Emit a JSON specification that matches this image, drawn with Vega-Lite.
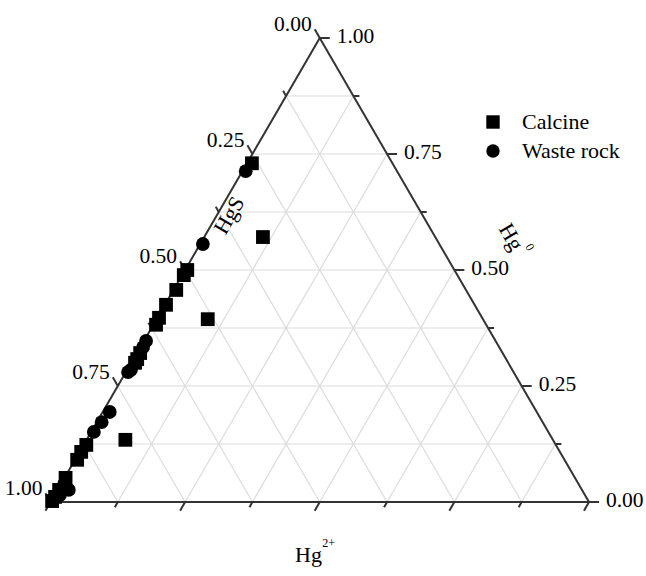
{
  "$schema": "https://vega.github.io/schema/vega-lite/v6.json",
  "width": 646,
  "height": 576,
  "autosize": "none",
  "padding": 0,
  "background": "white",
  "config": {"view": {"stroke": null}, "font": "Liberation Serif"},
  "datasets": {
    "grid": [
      {"x": 0.0625, "y": 0.125, "x2": 0.9375, "y2": 0.125},
      {"x": 0.125, "y": 0.25, "x2": 0.875, "y2": 0.25},
      {"x": 0.1875, "y": 0.375, "x2": 0.8125, "y2": 0.375},
      {"x": 0.25, "y": 0.5, "x2": 0.75, "y2": 0.5},
      {"x": 0.3125, "y": 0.625, "x2": 0.6875, "y2": 0.625},
      {"x": 0.375, "y": 0.75, "x2": 0.625, "y2": 0.75},
      {"x": 0.4375, "y": 0.875, "x2": 0.5625, "y2": 0.875},
      {"x": 0.125, "y": 0, "x2": 0.5625, "y2": 0.875},
      {"x": 0.25, "y": 0, "x2": 0.625, "y2": 0.75},
      {"x": 0.375, "y": 0, "x2": 0.6875, "y2": 0.625},
      {"x": 0.5, "y": 0, "x2": 0.75, "y2": 0.5},
      {"x": 0.625, "y": 0, "x2": 0.8125, "y2": 0.375},
      {"x": 0.75, "y": 0, "x2": 0.875, "y2": 0.25},
      {"x": 0.875, "y": 0, "x2": 0.9375, "y2": 0.125},
      {"x": 0.875, "y": 0, "x2": 0.4375, "y2": 0.875},
      {"x": 0.75, "y": 0, "x2": 0.375, "y2": 0.75},
      {"x": 0.625, "y": 0, "x2": 0.3125, "y2": 0.625},
      {"x": 0.5, "y": 0, "x2": 0.25, "y2": 0.5},
      {"x": 0.375, "y": 0, "x2": 0.1875, "y2": 0.375},
      {"x": 0.25, "y": 0, "x2": 0.125, "y2": 0.25},
      {"x": 0.125, "y": 0, "x2": 0.0625, "y2": 0.125}
    ],
    "edges": [
      {"x": 0, "y": 0, "x2": 1, "y2": 0},
      {"x": 1, "y": 0, "x2": 0.5, "y2": 1},
      {"x": 0.5, "y": 1, "x2": 0, "y2": 0}
    ],
    "ticks": [
      {"x": 0, "y": 0, "x2": -0.00929, "y2": -0.01866},
      {"x": 0.125, "y": 0, "x2": 0.11943, "y2": -0.0112},
      {"x": 0.25, "y": 0, "x2": 0.24071, "y2": -0.01866},
      {"x": 0.375, "y": 0, "x2": 0.36943, "y2": -0.0112},
      {"x": 0.5, "y": 0, "x2": 0.49071, "y2": -0.01866},
      {"x": 0.625, "y": 0, "x2": 0.61943, "y2": -0.0112},
      {"x": 0.75, "y": 0, "x2": 0.74071, "y2": -0.01866},
      {"x": 0.875, "y": 0, "x2": 0.86943, "y2": -0.0112},
      {"x": 1, "y": 0, "x2": 0.99071, "y2": -0.01866},
      {"x": 1, "y": 0, "x2": 1.01857, "y2": 0},
      {"x": 0.9375, "y": 0.125, "x2": 0.94864, "y2": 0.125},
      {"x": 0.875, "y": 0.25, "x2": 0.89357, "y2": 0.25},
      {"x": 0.8125, "y": 0.375, "x2": 0.82364, "y2": 0.375},
      {"x": 0.75, "y": 0.5, "x2": 0.76857, "y2": 0.5},
      {"x": 0.6875, "y": 0.625, "x2": 0.69864, "y2": 0.625},
      {"x": 0.625, "y": 0.75, "x2": 0.64357, "y2": 0.75},
      {"x": 0.5625, "y": 0.875, "x2": 0.57364, "y2": 0.875},
      {"x": 0.5, "y": 1, "x2": 0.51857, "y2": 1},
      {"x": 0, "y": 0, "x2": -0.00929, "y2": 0.01866},
      {"x": 0.0625, "y": 0.125, "x2": 0.05693, "y2": 0.1362},
      {"x": 0.125, "y": 0.25, "x2": 0.11571, "y2": 0.26866},
      {"x": 0.1875, "y": 0.375, "x2": 0.18193, "y2": 0.3862},
      {"x": 0.25, "y": 0.5, "x2": 0.24071, "y2": 0.51866},
      {"x": 0.3125, "y": 0.625, "x2": 0.30693, "y2": 0.6362},
      {"x": 0.375, "y": 0.75, "x2": 0.36571, "y2": 0.76866},
      {"x": 0.4375, "y": 0.875, "x2": 0.43193, "y2": 0.8862},
      {"x": 0.5, "y": 1, "x2": 0.49071, "y2": 1.01866}
    ],
    "leftLabels": [
      {"label": "0.00", "x": 0.49071, "y": 1.01866},
      {"label": "0.25", "x": 0.36571, "y": 0.76866},
      {"label": "0.50", "x": 0.24071, "y": 0.51866},
      {"label": "0.75", "x": 0.11571, "y": 0.26866},
      {"label": "1.00", "x": -0.00929, "y": 0.01866}
    ],
    "rightLabels": [
      {"label": "1.00", "x": 0.51857, "y": 1},
      {"label": "0.75", "x": 0.64357, "y": 0.75},
      {"label": "0.50", "x": 0.76857, "y": 0.5},
      {"label": "0.25", "x": 0.89357, "y": 0.25},
      {"label": "0.00", "x": 1.01857, "y": 0}
    ],
    "points": [
      {"type": "Calcine", "hg0": 0.730, "hg2": 0.009},
      {"type": "Calcine", "hg0": 0.571, "hg2": 0.109},
      {"type": "Calcine", "hg0": 0.500, "hg2": 0.004},
      {"type": "Calcine", "hg0": 0.489, "hg2": 0.003},
      {"type": "Calcine", "hg0": 0.457, "hg2": 0.005},
      {"type": "Calcine", "hg0": 0.425, "hg2": 0.002},
      {"type": "Calcine", "hg0": 0.397, "hg2": 0.003},
      {"type": "Calcine", "hg0": 0.382, "hg2": 0.005},
      {"type": "Calcine", "hg0": 0.321, "hg2": 0.006},
      {"type": "Calcine", "hg0": 0.308, "hg2": 0.007},
      {"type": "Calcine", "hg0": 0.300, "hg2": 0.007},
      {"type": "Calcine", "hg0": 0.394, "hg2": 0.095},
      {"type": "Calcine", "hg0": 0.123, "hg2": 0.005},
      {"type": "Calcine", "hg0": 0.108, "hg2": 0.003},
      {"type": "Calcine", "hg0": 0.091, "hg2": 0.004},
      {"type": "Calcine", "hg0": 0.134, "hg2": 0.072},
      {"type": "Calcine", "hg0": 0.052, "hg2": 0.002},
      {"type": "Calcine", "hg0": 0.026, "hg2": 0.003},
      {"type": "Calcine", "hg0": 0.011, "hg2": 0.003},
      {"type": "Calcine", "hg0": 0.002, "hg2": 0.002},
      {"type": "Waste rock", "hg0": 0.713, "hg2": 0.006},
      {"type": "Waste rock", "hg0": 0.556, "hg2": 0.005},
      {"type": "Waste rock", "hg0": 0.347, "hg2": 0.004},
      {"type": "Waste rock", "hg0": 0.334, "hg2": 0.005},
      {"type": "Waste rock", "hg0": 0.285, "hg2": 0.007},
      {"type": "Waste rock", "hg0": 0.280, "hg2": 0.004},
      {"type": "Waste rock", "hg0": 0.194, "hg2": 0.013},
      {"type": "Waste rock", "hg0": 0.172, "hg2": 0.009},
      {"type": "Waste rock", "hg0": 0.151, "hg2": 0.005},
      {"type": "Waste rock", "hg0": 0.039, "hg2": 0.006},
      {"type": "Waste rock", "hg0": 0.026, "hg2": 0.021},
      {"type": "Waste rock", "hg0": 0.015, "hg2": 0.010}
    ],
    "titles": [
      {"label": "HgS", "x": 0.3320, "y": 0.6180, "angle": -60, "size": 22},
      {"label": "Hg", "x": 0.8552, "y": 0.5711, "angle": 60, "size": 22},
      {"label": "0", "x": 0.8904, "y": 0.5496, "angle": 60, "size": 12},
      {"label": "Hg", "x": 0.4791, "y": -0.1150, "angle": 0, "size": 22},
      {"label": "2+", "x": 0.5165, "y": -0.0880, "angle": 0, "size": 12}
    ]
  },
  "layer": [
    {
      "data": {"name": "grid"},
      "mark": {"type": "rule", "color": "#dcdcdc", "strokeWidth": 1.2},
      "encoding": {
        "x": {"field": "x", "type": "quantitative", "scale": {"domain": [0, 1], "range": [50.5, 589], "nice": false, "zero": false}, "axis": null},
        "y": {"field": "y", "type": "quantitative", "scale": {"domain": [0, 1], "range": [502, 38], "nice": false, "zero": false}, "axis": null},
        "x2": {"field": "x2"},
        "y2": {"field": "y2"}
      }
    },
    {
      "data": {"name": "edges"},
      "mark": {"type": "rule", "color": "#333333", "strokeWidth": 2},
      "encoding": {
        "x": {"field": "x", "type": "quantitative"},
        "y": {"field": "y", "type": "quantitative"},
        "x2": {"field": "x2"},
        "y2": {"field": "y2"}
      }
    },
    {
      "data": {"name": "ticks"},
      "mark": {"type": "rule", "color": "#333333", "strokeWidth": 2},
      "encoding": {
        "x": {"field": "x", "type": "quantitative"},
        "y": {"field": "y", "type": "quantitative"},
        "x2": {"field": "x2"},
        "y2": {"field": "y2"}
      }
    },
    {
      "data": {"name": "leftLabels"},
      "mark": {"type": "text", "align": "right", "baseline": "alphabetic", "dx": -3, "dy": 2, "fontSize": 21.5, "font": "Liberation Serif", "color": "black"},
      "encoding": {
        "x": {"field": "x", "type": "quantitative"},
        "y": {"field": "y", "type": "quantitative"},
        "text": {"field": "label"}
      }
    },
    {
      "data": {"name": "rightLabels"},
      "mark": {"type": "text", "align": "left", "baseline": "middle", "dx": 7, "dy": -1, "fontSize": 21.5, "font": "Liberation Serif", "color": "black"},
      "encoding": {
        "x": {"field": "x", "type": "quantitative"},
        "y": {"field": "y", "type": "quantitative"},
        "text": {"field": "label"}
      }
    },
    {
      "data": {"name": "titles"},
      "mark": {"type": "text", "align": "center", "baseline": "middle", "font": "Liberation Serif", "color": "black"},
      "encoding": {
        "x": {"field": "x", "type": "quantitative"},
        "y": {"field": "y", "type": "quantitative"},
        "text": {"field": "label"},
        "angle": {"field": "angle", "type": "quantitative", "scale": null},
        "size": {"field": "size", "type": "quantitative", "scale": null, "legend": null}
      }
    },
    {
      "data": {"name": "points"},
      "transform": [{"calculate": "datum.hg2 + datum.hg0 / 2", "as": "tx"}],
      "mark": {"type": "point", "filled": true, "opacity": 1, "size": 190, "color": "black"},
      "encoding": {
        "x": {"field": "tx", "type": "quantitative"},
        "y": {"field": "hg0", "type": "quantitative"},
        "shape": {
          "field": "type",
          "type": "nominal",
          "scale": {"domain": ["Calcine", "Waste rock"], "range": ["square", "circle"]},
          "legend": {
            "title": null,
            "orient": "none",
            "legendX": 482,
            "legendY": 111,
            "padding": 0,
            "labelFont": "Liberation Serif",
            "labelFontSize": 22,
            "labelColor": "black",
            "labelOffset": 18,
            "symbolSize": 180,
            "symbolFillColor": "black",
            "symbolStrokeColor": "black",
            "symbolStrokeWidth": 0,
            "symbolOpacity": 1,
            "rowPadding": 7
          }
        }
      }
    }
  ]
}
